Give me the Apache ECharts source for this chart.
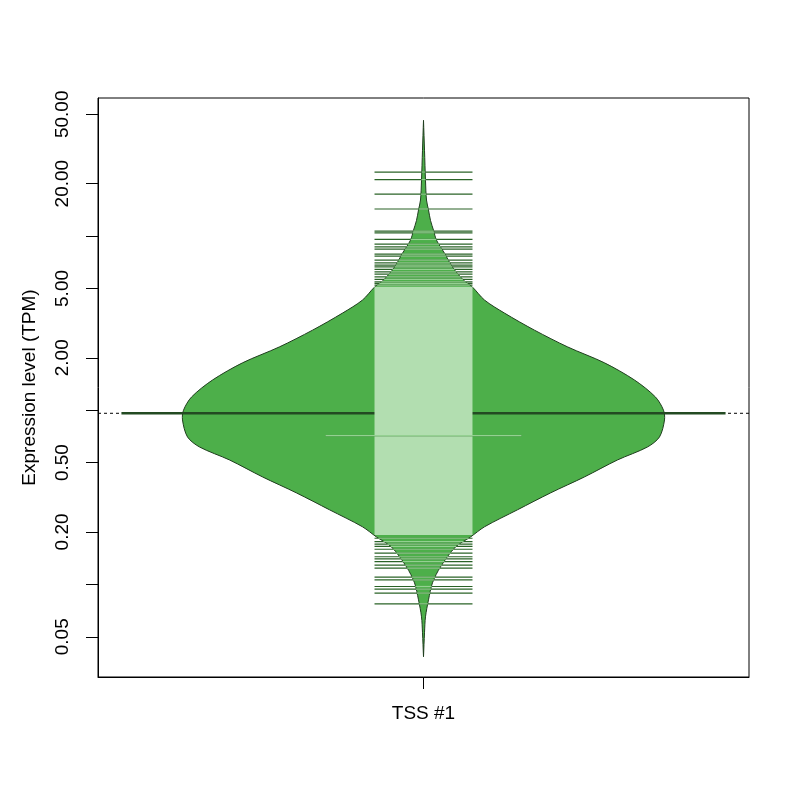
<!DOCTYPE html>
<html lang="en">
<head>
    <meta charset="UTF-8">
    <title>Expression level beanplot</title>
    <script src="https://cdn.jsdelivr.net/npm/echarts@6/dist/echarts.min.js"></script>
</head>
<body style="margin: 0; background-color: white;">
<div id="chart" style="width: 800px; height: 800px;"></div>

<script>
    // category on the x axis
    const categories = ['TSS #1'];

    // bean outline: expression level (TPM) and half width of the density (x units)
    const beanLevels = [46.2, 31.1, 20.9, 16.1, 14.1, 12.3, 10.8, 9.47, 7.97, 6.63, 5.58, 5.09, 4.29, 3.61,
        2.88, 2.31, 1.87, 1.49, 1.19, 1.00, 0.879, 0.702, 0.615, 0.518, 0.414, 0.335, 0.268, 0.214,
        0.187, 0.164, 0.126, 0.102, 0.0815, 0.0651, 0.0527, 0.0384];
    const beanHalfWidths = [0, 0.0031, 0.0061, 0.0092, 0.0154, 0.0215, 0.0307, 0.0399, 0.0645, 0.0891,
        0.1229, 0.1505, 0.1874, 0.2488, 0.341, 0.4424, 0.5561, 0.6482, 0.7127, 0.7373, 0.7404, 0.725,
        0.6882, 0.596, 0.4946, 0.3902, 0.2888, 0.1874, 0.1444, 0.0983, 0.0522, 0.0276, 0.0154, 0.0061,
        0.0031, 0];

    // single observations drawn as bean lines (TPM); repeated values give longer lines
    const beanlineValues = [23.3, 21.1, 17.4, 14.3, 10.67, 10.43, 9.56, 8.98, 8.67, 8.41, 7.87, 7.66,
        7.27, 7.02, 6.81, 6.66, 6.43, 6.23, 6.04, 5.83, 5.64, 5.46, 5.35, 5.23,
        0.714, 0.714,
        0.184, 0.176, 0.170, 0.165, 0.159, 0.151, 0.144, 0.140, 0.135, 0.129, 0.124, 0.110, 0.106,
        0.0972, 0.0939, 0.0891, 0.0773];
    // range where bean lines are packed so densely they merge (TPM)
    const denseRange = [0.192, 5.11];

    // bean average and overall average (TPM)
    const beanAverage = [0.96];
    const overallAverage = [0.96];

    // tick positions and labelled ticks (TPM)
    const yTicks = [0.05, 0.1, 0.2, 0.5, 1, 2, 5, 10, 20, 50];
    const yTickLabels = [0.05, 0.2, 0.5, 2, 5, 20, 50];

    const LINE_HALF = 0.1505;
    const FILL = '#4daf4a';
    const LIGHT = '#94d091';
    const BAND = '#b2deb0';
    const DARK = '#2a6327';
    const FONT = 'Liberation Sans, Arial, sans-serif';

    const lg = v => Math.log10(v);

    // half width of the bean at a given log level (for colouring the bean lines)
    function beanWidthAt(lv) {
        for (let i = 0; i < beanLevels.length - 1; i++) {
            const a = lg(beanLevels[i]), b = lg(beanLevels[i + 1]);
            if (lv <= a && lv >= b) {
                const t = (a - lv) / (a - b);
                return beanHalfWidths[i] + t * (beanHalfWidths[i + 1] - beanHalfWidths[i]);
            }
        }
        return 0;
    }

    // group repeated values
    const lineCounts = {};
    beanlineValues.forEach(v => { lineCounts[v] = (lineCounts[v] || 0) + 1; });
    const beanlineData = Object.keys(lineCounts).map(k => [lg(+k), lineCounts[k]]);

    const myChart = echarts.init(document.getElementById('chart'), null, { renderer: 'canvas' });

    const option = {
        animation: false,
        grid: {
            left: 98, right: 51, top: 98, bottom: 123,
            show: true, borderColor: '#000', borderWidth: 1,
            outerBoundsMode: 'none'
        },
        xAxis: {
            type: 'value',
            min: -1,
            max: 1,
            splitLine: { show: false },
            axisLine: { show: true, onZero: false, lineStyle: { color: '#000', width: 1 } },
            axisTick: { show: true, customValues: [0], length: 12, lineStyle: { color: '#000' } },
            axisLabel: {
                customValues: [0],
                formatter: () => categories[0],
                margin: 27,
                fontSize: 19,
                fontFamily: FONT,
                color: '#000'
            }
        },
        yAxis: {
            type: 'value',
            min: -1.532,
            max: 1.7926,
            name: 'Expression level (TPM)',
            nameLocation: 'middle',
            nameGap: 59,
            nameTextStyle: { fontSize: 19, fontFamily: FONT, color: '#000' },
            splitLine: { show: false },
            axisLine: { show: true, onZero: false, lineStyle: { color: '#000', width: 1 } },
            axisTick: { show: true, customValues: yTicks.map(lg), length: 12, lineStyle: { color: '#000' } },
            axisLabel: {
                customValues: yTickLabels.map(lg),
                formatter: v => Math.pow(10, v).toFixed(2),
                rotate: 90,
                margin: 26,
                fontSize: 19,
                fontFamily: FONT,
                color: '#000'
            }
        },
        series: [
            {
                // overall average, dotted across the plot
                type: 'custom',
                data: overallAverage.map(v => [lg(v)]),
                renderItem: (params, api) => {
                    const a = api.coord([-1, api.value(0)]);
                    const b = api.coord([1, api.value(0)]);
                    return {
                        type: 'line',
                        shape: { x1: a[0], y1: a[1], x2: b[0], y2: b[1] },
                        style: { stroke: '#000', lineWidth: 1, lineDash: [3, 3] }
                    };
                }
            },
            {
                // the bean (density outline)
                type: 'custom',
                data: [[0]],
                renderItem: (params, api) => {
                    const right = beanLevels.map((lv, i) => api.coord([beanHalfWidths[i], lg(lv)]));
                    const left = beanLevels.map((lv, i) => api.coord([-beanHalfWidths[i], lg(lv)])).reverse();
                    return {
                        type: 'polygon',
                        shape: { points: right.concat(left), smooth: 0.3 },
                        style: { fill: FILL, stroke: '#1f3d1e', lineWidth: 1 }
                    };
                }
            },
            {
                // bean average line
                type: 'custom',
                data: beanAverage.map(v => [lg(v)]),
                renderItem: (params, api) => {
                    const a = api.coord([-0.928, api.value(0)]);
                    const b = api.coord([0.928, api.value(0)]);
                    return {
                        type: 'line',
                        shape: { x1: a[0], y1: a[1], x2: b[0], y2: b[1] },
                        style: { stroke: '#234a22', lineWidth: 2.5 }
                    };
                }
            },
            {
                // densely packed bean lines
                type: 'custom',
                data: [[lg(denseRange[0]), lg(denseRange[1])]],
                renderItem: (params, api) => {
                    const a = api.coord([-LINE_HALF, api.value(1)]);
                    const b = api.coord([LINE_HALF, api.value(0)]);
                    return {
                        type: 'rect',
                        shape: { x: a[0], y: a[1], width: b[0] - a[0], height: b[1] - a[1] },
                        style: { fill: BAND }
                    };
                }
            },
            {
                // single bean lines: dark outside the bean, light inside
                type: 'custom',
                data: beanlineData,
                renderItem: (params, api) => {
                    const lv = api.value(0);
                    const half = LINE_HALF * api.value(1);
                    const inner = Math.min(half, beanWidthAt(lv));
                    const a = api.coord([-half, lv]);
                    const b = api.coord([half, lv]);
                    const c = api.coord([-inner, lv]);
                    const d = api.coord([inner, lv]);
                    const children = [{
                        type: 'line',
                        shape: { x1: a[0], y1: a[1], x2: b[0], y2: b[1] },
                        style: { stroke: DARK, lineWidth: 1.2 }
                    }];
                    if (inner > 0) {
                        children.push({
                            type: 'line',
                            shape: { x1: c[0], y1: c[1], x2: d[0], y2: d[1] },
                            style: { stroke: LIGHT, lineWidth: 1.2 }
                        });
                    }
                    return { type: 'group', children: children };
                }
            }
        ]
    };

    myChart.setOption(option);
</script>
</body>
</html>
